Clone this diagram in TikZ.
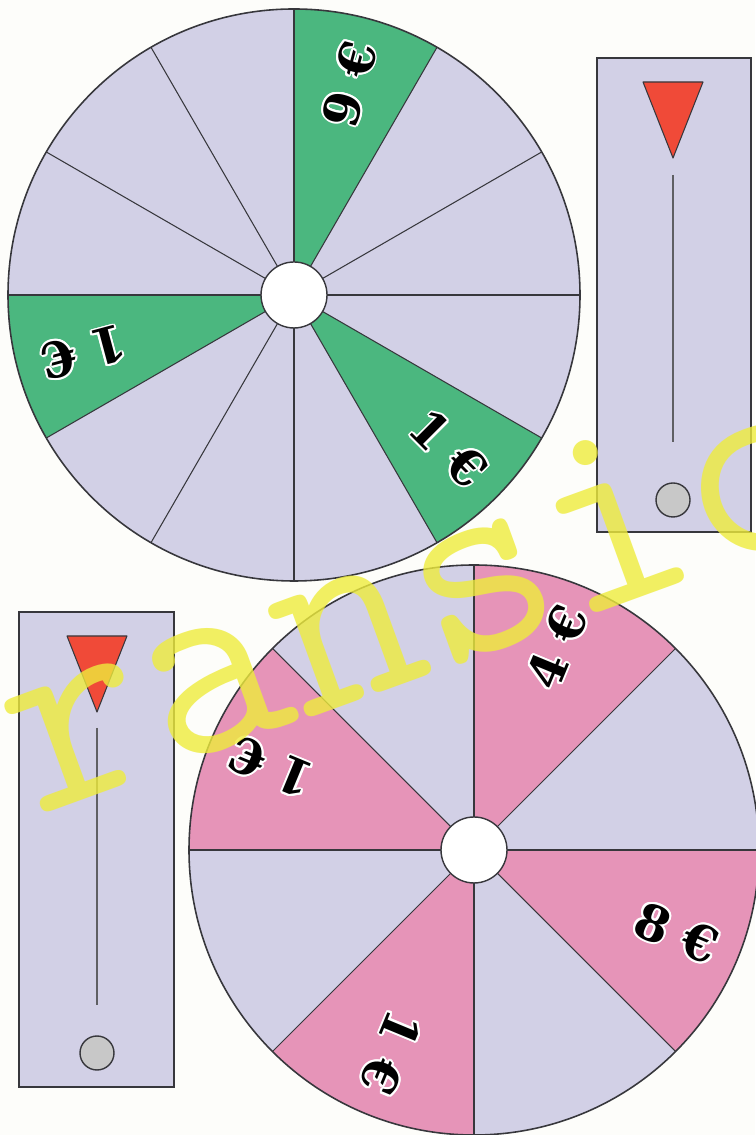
\documentclass[tikz,border=0pt]{standalone}
\usepackage{fontspec}
\usepackage{contour}
\newfontfamily\prizefont{DejaVu Serif}
\contourlength{1.1pt}
\definecolor{paper}{RGB}{253,253,250}
\definecolor{lav}{RGB}{210,208,230}
\definecolor{wingreen}{RGB}{75,183,127}
\definecolor{winpink}{RGB}{230,148,184}
\definecolor{tipred}{RGB}{240,74,56}
\definecolor{knobgray}{RGB}{200,200,200}
\definecolor{edge}{RGB}{55,55,60}
\definecolor{wmyellow}{RGB}{238,236,60}

\begin{document}
\begin{tikzpicture}[x=0.02cm, y=0.02cm,
    rim/.style={draw=edge, line width=0.9pt},
    spoke/.style={draw=edge, line width=0.6pt},
    hub/.style={circle, draw=edge, fill=white, line width=0.8pt, minimum size=1.32cm, inner sep=0pt},
    prize/.style={font=\prizefont\bfseries\fontsize{28}{28}\selectfont, inner sep=0pt},
    panel/.style={draw=edge, fill=lav, line width=1.1pt},
    pointer/.style={draw=edge, fill=tipred, line width=0.6pt, line join=round},
    needle/.style={draw=edge!80, line width=0.8pt},
    knob/.style={draw=edge, fill=knobgray, line width=0.8pt},
    wmark/.style={font=\ttfamily\addfontfeatures{FakeBold=2}\fontsize{158}{158}\selectfont, text=wmyellow, text opacity=0.8, inner sep=0pt}
  ]
    \useasboundingbox (0,0) rectangle (755,1135);
    \fill[paper] (0,0) rectangle (755,1135);

    % upper wheel, 12 sectors
    \coordinate (tc) at (294,840);
    \fill[lav] (tc) circle (286);
    \foreach \a in {60,180,300}
      \fill[wingreen] (tc) -- ++(\a:286) arc[start angle=\a, delta angle=30, radius=286] -- cycle;
    \foreach \a in {0,30,...,330}
      \draw[spoke] (tc) -- ++(\a:286);
    \draw[rim] (tc) circle (286);
    \node[hub] (thub) at (tc) {};
    \node[prize, rotate=75] (tnine) at ([shift={(75:218)}]tc) {\contour{white}{9 €}};
    \node[prize, rotate=195] (tone) at ([shift={(195:218)}]tc) {\contour{white}{1 €}};
    \node[prize, rotate=-45] (ttwo) at ([shift={(-45:218)}]tc) {\contour{white}{1 €}};

    % lower wheel, 8 sectors
    \coordinate (bc) at (474,285);
    \fill[lav] (bc) circle (285);
    \foreach \a in {45,135,225,315}
      \fill[winpink] (bc) -- ++(\a:285) arc[start angle=\a, delta angle=45, radius=285] -- cycle;
    \foreach \a in {0,45,...,315}
      \draw[spoke] (bc) -- ++(\a:285);
    \draw[rim] (bc) circle (285);
    \node[hub] (bhub) at (bc) {};
    \node[prize, rotate=67.5] (bfour) at ([shift={(67.5:219)}]bc) {\contour{white}{4 €}};
    \node[prize, rotate=157.5] (bone) at ([shift={(157.5:219)}]bc) {\contour{white}{1 €}};
    \node[prize, rotate=247.5] (btwo) at ([shift={(247.5:219)}]bc) {\contour{white}{1 €}};
    \node[prize, rotate=-22.5] (beight) at ([shift={(-22.5:219)}]bc) {\contour{white}{8 €}};

    % right pointer strip
    \draw[panel] (597,603) rectangle (751,1077);
    \draw[pointer] (643,1053) -- (703,1053) -- (673,977) -- cycle;
    \draw[needle] (673,960) -- (673,693);
    \draw[knob] (673,635) circle (17);

    % left pointer strip
    \draw[panel] (19,48) rectangle (174,523);
    \draw[pointer] (67,499) -- (127,499) -- (97,423) -- cycle;
    \draw[needle] (97,407) -- (97,130);
    \draw[knob] (97,82) circle (17);

    % watermark
    \node[wmark, rotate=20, anchor=base west] (mark) at (34,317) {ransic};
  \end{tikzpicture}
\end{document}
